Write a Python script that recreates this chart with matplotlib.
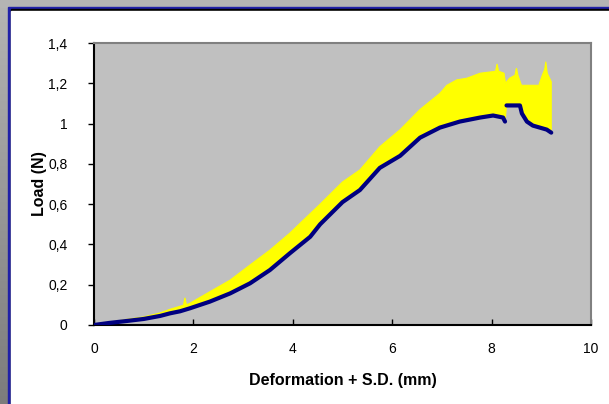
import numpy as np
import matplotlib
matplotlib.use("Agg")
import matplotlib.pyplot as plt
from matplotlib.ticker import FuncFormatter
from matplotlib.patches import Rectangle

plt.rcParams['font.family'] = ['Liberation Sans', 'DejaVu Sans']

# Mean load curve (blue); NaN marks the gap in the data
x_mean = [0.0, 0.3, 0.66, 1.0, 1.33, 1.53, 1.73, 1.93, 2.33, 2.74, 3.14, 3.54, 3.94,
          4.35, 4.55, 5.0, 5.35, 5.75, 6.16, 6.56, 6.96, 7.36, 7.77, 8.03, 8.23, 8.27,
          np.nan,
          8.30, 8.57, 8.61, 8.71, 8.83, 8.97, 9.11, 9.2]
load_mean = [0.0, 0.01, 0.02, 0.03, 0.045, 0.058, 0.068, 0.083, 0.116, 0.157, 0.207, 0.273, 0.356,
             0.438, 0.50, 0.61, 0.67, 0.78, 0.84, 0.93, 0.98, 1.01, 1.03, 1.04, 1.03, 1.01,
             np.nan,
             1.09, 1.09, 1.05, 1.01, 0.99, 0.98, 0.97, 0.955]

# Mean + S.D. (upper edge of yellow band)
x_upper = [0.0, 0.3, 0.66, 1.0, 1.33, 1.53, 1.80, 1.83, 1.86, 1.93, 2.33, 2.74, 3.14, 3.54,
           3.94, 4.21, 4.55, 5.0, 5.35, 5.75, 6.16, 6.56, 6.76, 6.96, 7.1, 7.3, 7.5, 7.77,
           8.03, 8.08, 8.11, 8.14, 8.25, 8.28, 8.36, 8.47, 8.5, 8.53, 8.6, 8.95, 9.02,
           9.07, 9.09, 9.12, 9.2]
load_upper = [0.0, 0.012, 0.028, 0.04, 0.06, 0.078, 0.098, 0.135, 0.10, 0.108, 0.165, 0.223,
              0.298, 0.372, 0.456, 0.52, 0.60, 0.71, 0.77, 0.885, 0.97, 1.07, 1.11, 1.15, 1.19,
              1.217, 1.225, 1.25, 1.258, 1.26, 1.296, 1.26, 1.25, 1.20, 1.225, 1.24, 1.275, 1.24,
              1.19, 1.19, 1.24, 1.27, 1.307, 1.25, 1.208]

y_ticks = [0, 0.2, 0.4, 0.6, 0.8, 1.0, 1.2, 1.4]
x_ticks = [0, 2, 4, 6, 8, 10]

W, H = 609, 404
fig = plt.figure(figsize=(W / 100, H / 100), dpi=100)

# background frame
bg = fig.add_axes([0, 0, 1, 1])
bg.set_xlim(0, W)
bg.set_ylim(H, 0)
bg.axis('off')
grad = np.linspace(0, 1, 256)[:, None]
bg.imshow(grad, cmap=matplotlib.colors.LinearSegmentedColormap.from_list('g', ['#b4b4b4', '#7c7c7c']),
          extent=[0, W, H, 0], aspect='auto', zorder=0)
bg.add_patch(Rectangle((0, 0), W, 7, color='#b4b4b4', zorder=1))
bg.add_patch(Rectangle((8, 6.5), W, H, color='#2020a8', zorder=2))
bg.add_patch(Rectangle((10.5, 9), W, H, color='#000000', zorder=3))
bg.add_patch(Rectangle((10.5, 11), W, H, color='white', zorder=4))

ax = fig.add_axes([94 / W, (H - 325) / H, 497 / W, 282 / H])
ax.set_facecolor('#c0c0c0')

xm = np.array(x_mean, dtype=float)
ym = np.array(load_mean, dtype=float)
ok = ~np.isnan(xm)
poly_x = np.concatenate([np.array(x_upper), xm[ok][::-1]])
poly_y = np.concatenate([np.array(load_upper), ym[ok][::-1]])
ax.fill(poly_x, poly_y, color='#ffff00', lw=0.8, ec='#ffff00', zorder=2)
ax.plot(xm, ym, color='#000080', lw=3.0, solid_capstyle='round', zorder=3)

ax.set_xlim(0, 10)
ax.set_ylim(0, 1.4)
ax.set_xticks(x_ticks)
ax.set_yticks(y_ticks)
fmt = FuncFormatter(lambda v, p: ('%g' % round(v, 2)).replace('.', ','))
ax.xaxis.set_major_formatter(fmt)
ax.yaxis.set_major_formatter(fmt)
ax.tick_params(axis='x', direction='in', length=4, width=1, labelsize=10, pad=12, colors='black')
ax.tick_params(axis='y', direction='out', length=4, width=1, labelsize=10, pad=15, colors='black')
for s in ['left', 'bottom']:
    ax.spines[s].set_color('black')
    ax.spines[s].set_linewidth(1.5)
for s in ['top', 'right']:
    ax.spines[s].set_color('#808080')
    ax.spines[s].set_linewidth(1.5)

ax.set_xlabel('Deformation + S.D. (mm)', fontsize=11.5, fontweight='bold', labelpad=12.5)
ax.set_ylabel('Load (N)', fontsize=11.5, fontweight='bold', labelpad=1)

fig.savefig('out.png', dpi=100)
